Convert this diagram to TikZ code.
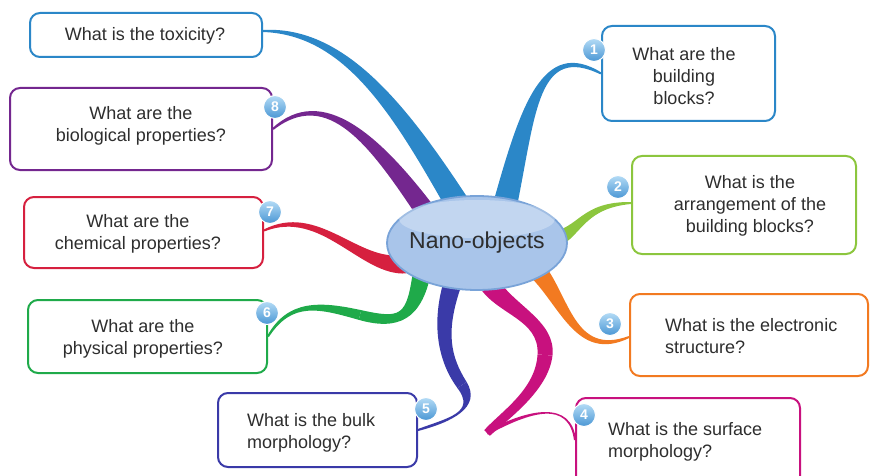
\documentclass[tikz,border=0pt]{standalone}
\usepackage{fontspec}
\setmainfont{Liberation Sans}
\usetikzlibrary{calc,shapes.geometric}
\definecolor{cblue}{HTML}{2B87C8}
\definecolor{cpurple}{HTML}{74278F}
\definecolor{cred}{HTML}{D6203F}
\definecolor{cgreen}{HTML}{1FAA4A}
\definecolor{cindigo}{HTML}{3A3AA8}
\definecolor{cmagenta}{HTML}{C8117E}
\definecolor{corange}{HTML}{F27A21}
\definecolor{clime}{HTML}{8CC63E}
\definecolor{textgray}{HTML}{2E2E2E}
\definecolor{ellfill}{HTML}{A9C5EA}
\definecolor{elldraw}{HTML}{79A3D8}
\definecolor{numtop}{HTML}{B4DCF6}
\definecolor{numbot}{HTML}{4A96D4}
\pgfdeclarelayer{bg}
\pgfsetlayers{bg,main}
% tapered branch segment: color, start, c1, c2, end, start half-width, end half-width
\newcommand\branchseg[7]{%
  \pgfmathsetmacro\bwa{#6}\pgfmathsetmacro\bwb{#7}%
  \pgfmathsetmacro\bwc{(2*#6+#7)/3}\pgfmathsetmacro\bwd{(#6+2*#7)/3}%
  \fill[#1] ($(#2)!\bwa pt!90:(#3)$) .. controls ($(#3)!\bwc pt!-90:(#2)$) and ($(#4)!\bwd pt!90:(#5)$) .. ($(#5)!\bwb pt!-90:(#4)$)
     -- ($(#5)!\bwb pt!90:(#4)$) .. controls ($(#4)!\bwd pt!-90:(#5)$) and ($(#3)!\bwc pt!90:(#2)$) .. ($(#2)!\bwa pt!-90:(#3)$) -- cycle;}
\begin{document}
\begin{tikzpicture}[x=1pt,y=-1pt,
  box/.style={draw=#1, line width=2pt, rounded corners=10pt, fill=white, inner sep=0pt},
  txt/.style={font=\fontsize{18}{22}\selectfont, text=textgray, inner sep=0pt},
  num/.style={circle, minimum size=23pt, inner sep=0pt, top color=numtop, bottom color=numbot,
    draw=white, line width=1pt, text=white, font=\bfseries\fontsize{14}{14}\selectfont}]
\useasboundingbox (0,0) rectangle (870,476);
% boxes
\node[box=cblue, minimum width=232pt, minimum height=44pt] (btox) at (146,35) {};
\node[box=cpurple, minimum width=262pt, minimum height=82pt] (b8) at (141,129) {};
\node[box=cred, minimum width=239pt, minimum height=71pt] (b7) at (143.5,232.5) {};
\node[box=cgreen, minimum width=239pt, minimum height=73pt] (b6) at (147.5,336.5) {};
\node[box=cindigo, minimum width=199pt, minimum height=74pt] (b5) at (317.5,430) {};
\node[box=cblue, minimum width=173pt, minimum height=95pt] (b1) at (688.5,73.5) {};
\node[box=clime, minimum width=224pt, minimum height=98pt] (b2) at (744,205) {};
\node[box=corange, minimum width=238pt, minimum height=82pt] (b3) at (749,335) {};
\node[box=cmagenta, minimum width=224pt, minimum height=92pt] (b4) at (688,444) {};
% texts
\node[txt] (ttox) at (145,36) {What is the toxicity?};
\node[txt, align=center] (t8) at (141,126) {What are the\\biological properties?};
\node[txt, align=center] (t7) at (138,234) {What are the\\chemical properties?};
\node[txt, align=center] (t6) at (143,339) {What are the\\physical properties?};
\node[txt, align=left, anchor=west] (t5) at (247,432.5) {What is the bulk\\morphology?};
\node[txt, align=center] (t1) at (684,76.5) {What are the\\building\\blocks?};
\node[txt, align=center] (t2) at (750,206) {What is the\\arrangement of the\\building blocks?};
\node[txt, align=left, anchor=west] (t3) at (665,336.5) {What is the electronic\\structure?};
\node[txt, align=left, anchor=west] (t4) at (608,442) {What is the surface\\morphology?};
% central ellipse
\node[ellipse, minimum width=180pt, minimum height=94pt, fill=ellfill, draw=elldraw, line width=1.8pt] (nano) at (477,243) {};
\fill[white, opacity=0.3] ($(nano.center)+(0,-24)$) ellipse (78pt and 19pt);
\node[font=\fontsize{23}{27}\selectfont, text=textgray, inner sep=0pt] (nanotext) at (nano.center) {Nano-objects};
% numbers
\node[num] (n1) at (594,50) {1};
\node[num] (n2) at (618,187) {2};
\node[num] (n3) at (610,324) {3};
\node[num] (n4) at (584,415) {4};
\node[num] (n5) at (426,409) {5};
\node[num] (n6) at (267,313) {6};
\node[num] (n7) at (270,212) {7};
\node[num] (n8) at (275,107) {8};
% anchor coordinates for branches
\coordinate (stox) at ($(nano.center)+(-19,-38)$);
\coordinate (s1) at ($(nano.center)+(28,-38)$);
\coordinate (s8) at ($(nano.center)+(-49,-28)$);
\coordinate (s7) at ($(nano.center)+(-72,21)$);
\coordinate (s6) at ($(nano.center)+(-55,29)$);
\coordinate (s5) at ($(nano.center)+(-25,42)$);
\coordinate (s4) at ($(nano.center)+(11,39)$);
\coordinate (s3) at ($(nano.center)+(58,25)$);
\coordinate (s2) at ($(nano.center)+(75,-3)$);
\coordinate (etox) at ($(btox.east)+(0,-4)$);
\coordinate (e7) at ($(b7.east)+(0,-2)$);
\coordinate (e4) at ($(b4.west)+(0,-4)$);
\coordinate (e3) at ($(b3.west)+(0,2)$);
\coordinate (e2) at ($(b2.west)+(0,-2)$);
\coordinate (m6) at (360,315);
\coordinate (m5) at (462,385);
\coordinate (m4a) at (545,355);
\coordinate (m4b) at (487,433);
\begin{pgfonlayer}{bg}
\begin{scope}[line join=round]
\branchseg{cblue}{stox}{400,110}{345,30}{etox}{12}{1}
\branchseg{cblue}{s1}{528,110}{540,40}{b1.west}{12}{1}
\branchseg{cpurple}{s8}{375,140}{325,85}{b8.east}{10}{1}
\branchseg{cred}{s7}{360,270}{320,205}{e7}{9.5}{1}
\branchseg{cgreen}{s6}{414,318}{400,325}{m6}{9}{5}
\branchseg{cgreen}{m6}{320,305}{290,300}{b6.east}{5}{1}
\branchseg{cindigo}{s5}{438,330}{445,360}{m5}{9}{5.5}
\branchseg{cindigo}{m5}{479,410}{450,420}{b5.east}{5.5}{1}
\branchseg{cmagenta}{s4}{505,310}{548,320}{m4a}{10}{7.5}
\branchseg{cmagenta}{m4a}{542,390}{505,415}{m4b}{7.5}{4}
\branchseg{cmagenta}{m4b}{530,410}{570,400}{e4}{2}{1}
\branchseg{corange}{s3}{565,300}{575,360}{e3}{9.5}{1}
\branchseg{clime}{s2}{580,235}{580,205}{e2}{8.5}{1}
\end{scope}
\end{pgfonlayer}
\end{tikzpicture}
\end{document}
